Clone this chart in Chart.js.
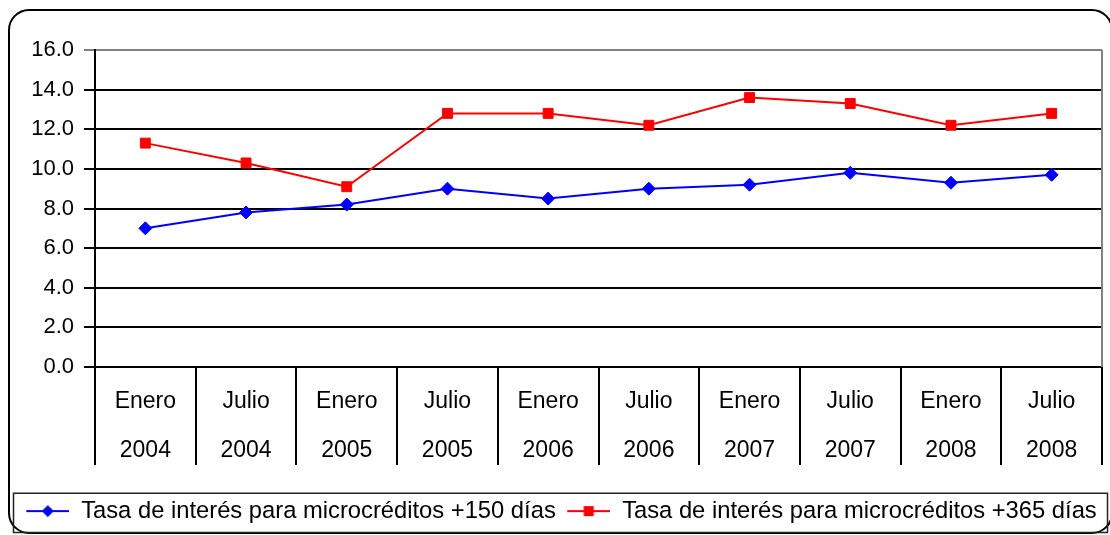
<!DOCTYPE html>
<html>
<head>
<meta charset="utf-8">
<script src="https://cdn.jsdelivr.net/npm/chart.js@4.4.1/dist/chart.umd.min.js"></script>
<style>
  html, body { margin: 0; padding: 0; background: #fff; }
  canvas { display: block; }
</style>
</head>
<body>
<canvas id="c" width="1110" height="535"></canvas>
<script>
const months = ["Enero", "Julio", "Enero", "Julio", "Enero", "Julio", "Enero", "Julio", "Enero", "Julio"];
const years = ["2004", "2004", "2005", "2005", "2006", "2006", "2007", "2007", "2008", "2008"];
const seriesNames = ["Tasa de interés para microcréditos +150 días", "Tasa de interés para microcréditos +365 días"];
const tasa150 = [7.0, 7.8, 8.2, 9.0, 8.5, 9.0, 9.2, 9.8, 9.3, 9.7];
const tasa365 = [11.3, 10.3, 9.1, 12.8, 12.8, 12.2, 13.6, 13.3, 12.2, 12.8];
const yMin = 0, yMax = 16, yStep = 2;

const labels = months.map((m, i) => [m, years[i]]);
const FONT = "'Liberation Sans', Arial, sans-serif";

function legendMarker(color, shape) {
  const w = 48, h = 14, o = 5;
  const c = document.createElement('canvas');
  c.width = w; c.height = h;
  const g = c.getContext('2d');
  g.strokeStyle = color; g.lineWidth = 2;
  g.beginPath(); g.moveTo(o, 7); g.lineTo(w, 7); g.stroke();
  g.fillStyle = color;
  const cx = (o + w) / 2;
  g.beginPath();
  if (shape === 'diamond') {
    g.moveTo(cx, 1); g.lineTo(cx + 6, 7); g.lineTo(cx, 13); g.lineTo(cx - 6, 7);
  } else {
    g.rect(cx - 5, 2, 10, 10);
  }
  g.closePath(); g.fill();
  return c;
}
const markers = [legendMarker('#0000ff', 'diamond'), legendMarker('#ff0000', 'square')];

const frame = {
  id: 'frame',
  beforeDraw(chart) {
    const ctx = chart.ctx;
    ctx.save();
    ctx.fillStyle = '#fff';
    ctx.fillRect(0, 0, chart.width, chart.height);
    ctx.strokeStyle = '#000';
    ctx.lineWidth = 2;
    ctx.beginPath();
    ctx.roundRect(9, 10, 1103, 523, 20);
    ctx.stroke();
    ctx.restore();
  },
  beforeDatasetsDraw(chart) {
    const ctx = chart.ctx, a = chart.chartArea;
    ctx.save();
    ctx.strokeStyle = '#808080';
    ctx.lineWidth = 2;
    ctx.beginPath();
    ctx.moveTo(a.right, a.top);
    ctx.lineTo(a.right, a.bottom);
    ctx.stroke();
    ctx.restore();
  },
  afterDraw(chart) {
    const ctx = chart.ctx, l = chart.legend;
    ctx.save();
    ctx.strokeStyle = '#222';
    ctx.lineWidth = 1.5;
    ctx.strokeRect(l.left + 0.5, l.top + 0.5, l.width + 2, l.height - 1);
    ctx.restore();
  }
};

new Chart(document.getElementById('c'), {
  type: 'line',
  data: {
    labels: labels,
    datasets: [
      {
        label: seriesNames[0],
        data: tasa150,
        borderColor: '#0000ff',
        backgroundColor: '#0000ff',
        pointBackgroundColor: '#0000ff',
        pointBorderColor: '#0000ff',
        pointStyle: 'rectRot',
        pointRadius: 6.5,
        pointBorderWidth: 1,
        borderWidth: 2,
        tension: 0
      },
      {
        label: seriesNames[1],
        data: tasa365,
        borderColor: '#ff0000',
        backgroundColor: '#ff0000',
        pointBackgroundColor: '#ff0000',
        pointBorderColor: '#ff0000',
        pointStyle: 'rect',
        pointRadius: 7,
        pointBorderWidth: 1,
        borderWidth: 2,
        tension: 0
      }
    ]
  },
  options: {
    responsive: false,
    animation: false,
    devicePixelRatio: 1,
    layout: { padding: { left: 13, right: 5, top: 50, bottom: 2 } },
    plugins: {
      tooltip: { enabled: false },
      legend: {
        position: 'bottom',
        labels: {
          usePointStyle: true,
          pointStyleWidth: 48,
          padding: 6.5,
          color: '#000',
          font: { family: FONT, size: 23.75 },
          generateLabels(chart) {
            const items = Chart.defaults.plugins.legend.labels.generateLabels(chart);
            items.forEach((it, i) => { it.pointStyle = markers[i]; });
            return items;
          }
        }
      }
    },
    scales: {
      x: {
        offset: true,
        afterFit(scale) { scale.height = 125.75; },
        border: { display: true, color: '#000', width: 2 },
        grid: {
          offset: true,
          drawOnChartArea: false,
          drawTicks: true,
          tickLength: 98,
          color: '#000',
          lineWidth: 2
        },
        ticks: {
          color: '#000',
          autoSkip: false,
          maxRotation: 0,
          minRotation: 0,
          padding: -88,
          font: { family: FONT, size: 23, lineHeight: '49px' }
        }
      },
      y: {
        min: yMin,
        max: yMax,
        afterFit(scale) { scale.width = 82; },
        border: { display: true, color: '#000', width: 2 },
        grid: {
          color: (c) => (c.tick && c.tick.value === yMax ? '#808080' : '#000'),
          lineWidth: 2,
          tickLength: 11,
          drawTicks: true
        },
        ticks: {
          stepSize: yStep,
          color: '#000',
          padding: 10,
          font: { family: FONT, size: 22 },
          callback: (v) => Number(v).toFixed(1)
        }
      }
    }
  },
  plugins: [frame]
});
</script>
</body>
</html>
